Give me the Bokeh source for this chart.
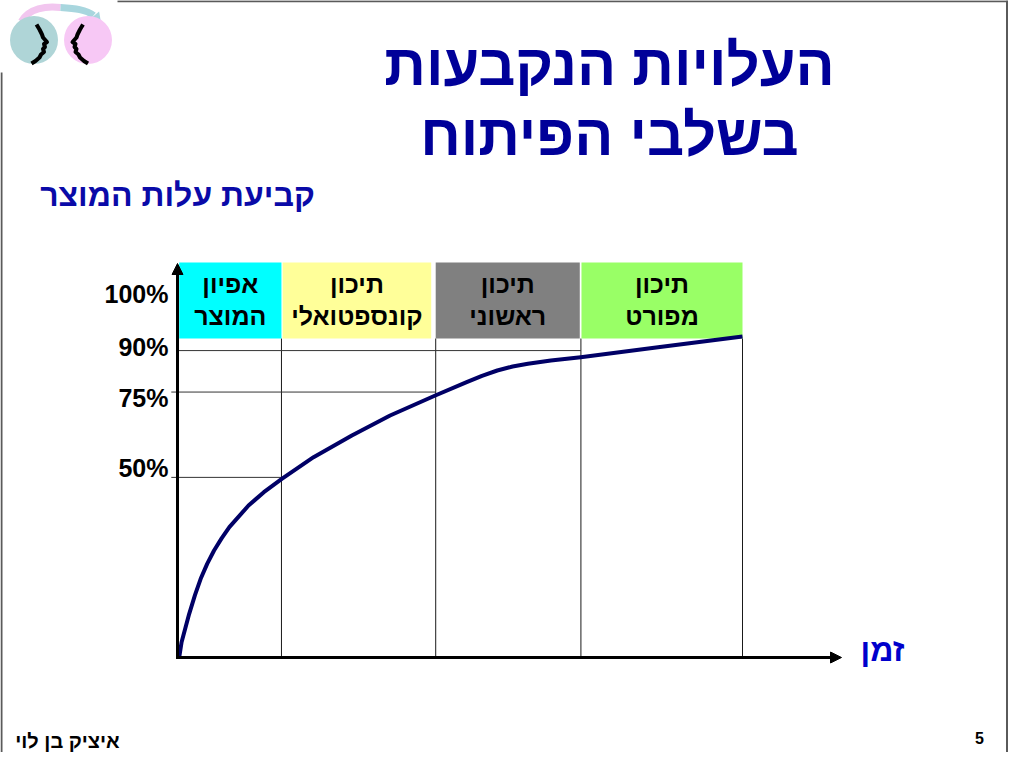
from bokeh.plotting import figure
from bokeh.models import Range1d, LinearAxis, FixedTicker, Arrow, NormalHead
from bokeh.embed import file_html
from bokeh.resources import INLINE
from bokeh.core.properties import value

# ---------------- data ----------------
phase_top = ["אפיון", "תיכון", "תיכון", "תיכון"]
phase_bottom = ["המוצר", "קונספטואלי", "ראשוני", "מפורט"]
phase_start = [0.3, 18.6, 45.7, 71.5]
phase_end = [18.4, 44.9, 71.2, 100.0]
phase_edges = [18.4, 45.7, 71.4, 100.0]

curve_time = [0.3, 0.72, 2.07, 3.09, 4.10, 5.25, 6.47, 7.83, 9.18, 12.57, 15.28,
              18.46, 24.08, 30.86, 37.63, 45.62, 51.18, 53.89, 56.6, 59.31,
              62.02, 66.08, 71.36, 85.05, 100.0]
curve_level = [0.0, 3.88, 11.06, 15.78, 19.92, 23.71, 27.09, 30.21, 33.0, 38.48, 41.86,
               45.23, 50.72, 56.2, 61.27, 66.33, 69.7, 71.31, 72.66, 73.67,
               74.35, 75.19, 76.03, 78.56, 81.27]

ytick_pos = [91.9, 78.7, 65.8, 48.1]
ytick_labels = ["100%", "90%", "75%", "50%"]

grid_level = [77.7, 67.2, 45.6]
grid_from = [0.0, -1.1, -1.1]
grid_to = [71.4, 45.7, 18.4]

band_bottom, band_top = 80.76, 100.0

title_lines = ["העלויות הנקבעות", "בשלבי הפיתוח"]
subtitle = "קביעת עלות המוצר"
x_label = "זמן"
footer = "איציק בן לוי"
page_no = "5"

# ---------------- layout helpers ----------------
W, H = 1008, 752
PX0, PY0, SX, SY = 177.0, 657.0, 5.65, 3.95


def X(px):
    return (px - PX0) / SX


def Y(py):
    return (PY0 - py) / SY


FONT = value("Liberation Sans")

p = figure(width=W, height=H, output_backend="svg", toolbar_location=None,
           x_range=Range1d(X(0), X(W)), y_range=Range1d(Y(H), Y(0)),
           x_axis_type=None, y_axis_type=None, min_border=0)
p.outline_line_color = None
p.background_fill_color = "white"
p.border_fill_color = "white"

# slide border
p.segment(x0=[X(117), X(1), X(1006.5)], y0=[Y(0.8), Y(72), Y(0)],
          x1=[X(1008), X(1), X(1006.5)], y1=[Y(0.8), Y(752), Y(752)],
          line_color="#5a5a5a", line_width=2)

# logo
p.bezier(x0=X(21), y0=Y(21), x1=X(60), y1=Y(7), cx0=X(28), cy0=Y(8), cx1=X(46), cy1=Y(5),
         line_width=7, line_color="#F2C6EF")
p.bezier(x0=X(60), y0=Y(7), x1=X(93), y1=Y(15), cx0=X(74), cy0=Y(8), cx1=X(86), cy1=Y(9),
         line_width=7, line_color="#A8D6DE")
p.scatter(x=[X(96)], y=[Y(18)], marker="triangle", size=13, angle=-2.45,
          fill_color="#A8D6DE", line_color=None)
p.scatter(x=[X(33.5), X(87.5)], y=[Y(39.5), Y(39.5)], marker="circle", size=48,
          fill_color=["#AFD5D7", "#F7C8F5"], line_color=None)
left_face = [(36, 24), (39, 29), (41.5, 34), (42.5, 37), (46.5, 41.5), (43.5, 43.5),
             (44.5, 46.5), (42.5, 48.5), (43.5, 51.5), (40.5, 54), (39, 57), (35, 60.5), (31, 63)]
p.multi_line(xs=[[X(a) for a, b in left_face], [X(118.5 - a) for a, b in left_face]],
             ys=[[Y(b) for a, b in left_face], [Y(b) for a, b in left_face]],
             line_color="black", line_width=4, line_join="round")

# chart: phase separators and level lines
p.segment(x0=phase_edges, y0=[0] * len(phase_edges), x1=phase_edges,
          y1=[band_bottom] * len(phase_edges), line_color="#1a1a1a", line_width=1)
p.segment(x0=grid_from, y0=grid_level, x1=grid_to, y1=grid_level,
          line_color="#333333", line_width=1)

# phase boxes
p.quad(left=phase_start, right=phase_end, bottom=band_bottom, top=band_top,
       fill_color=["#00FFFF", "#FFFF99", "#808080", "#99FF66"], line_color=None)
centers = [(a + b) / 2 for a, b in zip(phase_start, phase_end)]
p.text(x=centers, y=[Y(283)] * 4, text=phase_top, text_align="center",
       text_baseline="alphabetic", text_font=FONT, text_font_style="bold",
       text_font_size="25px", text_color="black")
p.text(x=centers, y=[Y(315)] * 4, text=phase_bottom, text_align="center",
       text_baseline="alphabetic", text_font=FONT, text_font_style="bold",
       text_font_size="25px", text_color="black")

# curve
p.line(curve_time, curve_level, line_width=4, line_color="#000066", line_join="round")

# axes
yax = LinearAxis(fixed_location=0, bounds=(0, Y(266)), ticker=FixedTicker(ticks=ytick_pos),
                 major_label_overrides={k: v for k, v in zip(ytick_pos, ytick_labels)})
xax = LinearAxis(fixed_location=0, bounds=(0, X(832)), ticker=FixedTicker(ticks=[]))
for ax in (yax, xax):
    ax.axis_line_width = 3
    ax.axis_line_color = "black"
    ax.axis_line_cap = "square"
    ax.major_tick_line_color = None
    ax.minor_tick_line_color = None
    ax.major_tick_out = 0
    ax.major_tick_in = 0
    ax.minor_tick_out = 0
    ax.major_label_standoff = 9
    ax.major_label_text_font = "Liberation Sans"
    ax.major_label_text_font_style = "bold"
    ax.major_label_text_font_size = "25px"
    ax.major_label_text_color = "black"
p.add_layout(yax, "left")
p.add_layout(xax, "below")

p.add_layout(Arrow(end=NormalHead(size=11, fill_color="black", line_color="black"),
                   x_start=0, y_start=Y(275), x_end=0, y_end=Y(263),
                   line_width=3, line_color="black"))
p.add_layout(Arrow(end=NormalHead(size=11, fill_color="black", line_color="black"),
                   x_start=X(826), y_start=0, x_end=X(841), y_end=0,
                   line_width=3, line_color="black"))

# slide texts
p.text(x=[X(609), X(609)], y=[Y(64), Y(134)], text=title_lines, text_align="center",
       text_baseline="alphabetic", text_font=FONT, text_font_style="bold",
       text_font_size="58px", text_color="#000099")
p.text(x=[X(177)], y=[Y(194)], text=[subtitle], text_align="center",
       text_baseline="alphabetic", text_font=FONT, text_font_style="bold",
       text_font_size="32px", text_color="#0A0AA8")
p.text(x=[X(882)], y=[Y(649)], text=[x_label], text_align="center",
       text_baseline="alphabetic", text_font=FONT, text_font_style="bold",
       text_font_size="32px", text_color="#0000CC")
p.text(x=[X(67)], y=[Y(740)], text=[footer], text_align="center",
       text_baseline="alphabetic", text_font=FONT, text_font_style="bold",
       text_font_size="20px", text_color="black")
p.text(x=[X(979)], y=[Y(737)], text=[page_no], text_align="center",
       text_baseline="alphabetic", text_font=FONT, text_font_style="bold",
       text_font_size="16px", text_color="black")

open("out.html", "w").write(file_html(p, INLINE))
